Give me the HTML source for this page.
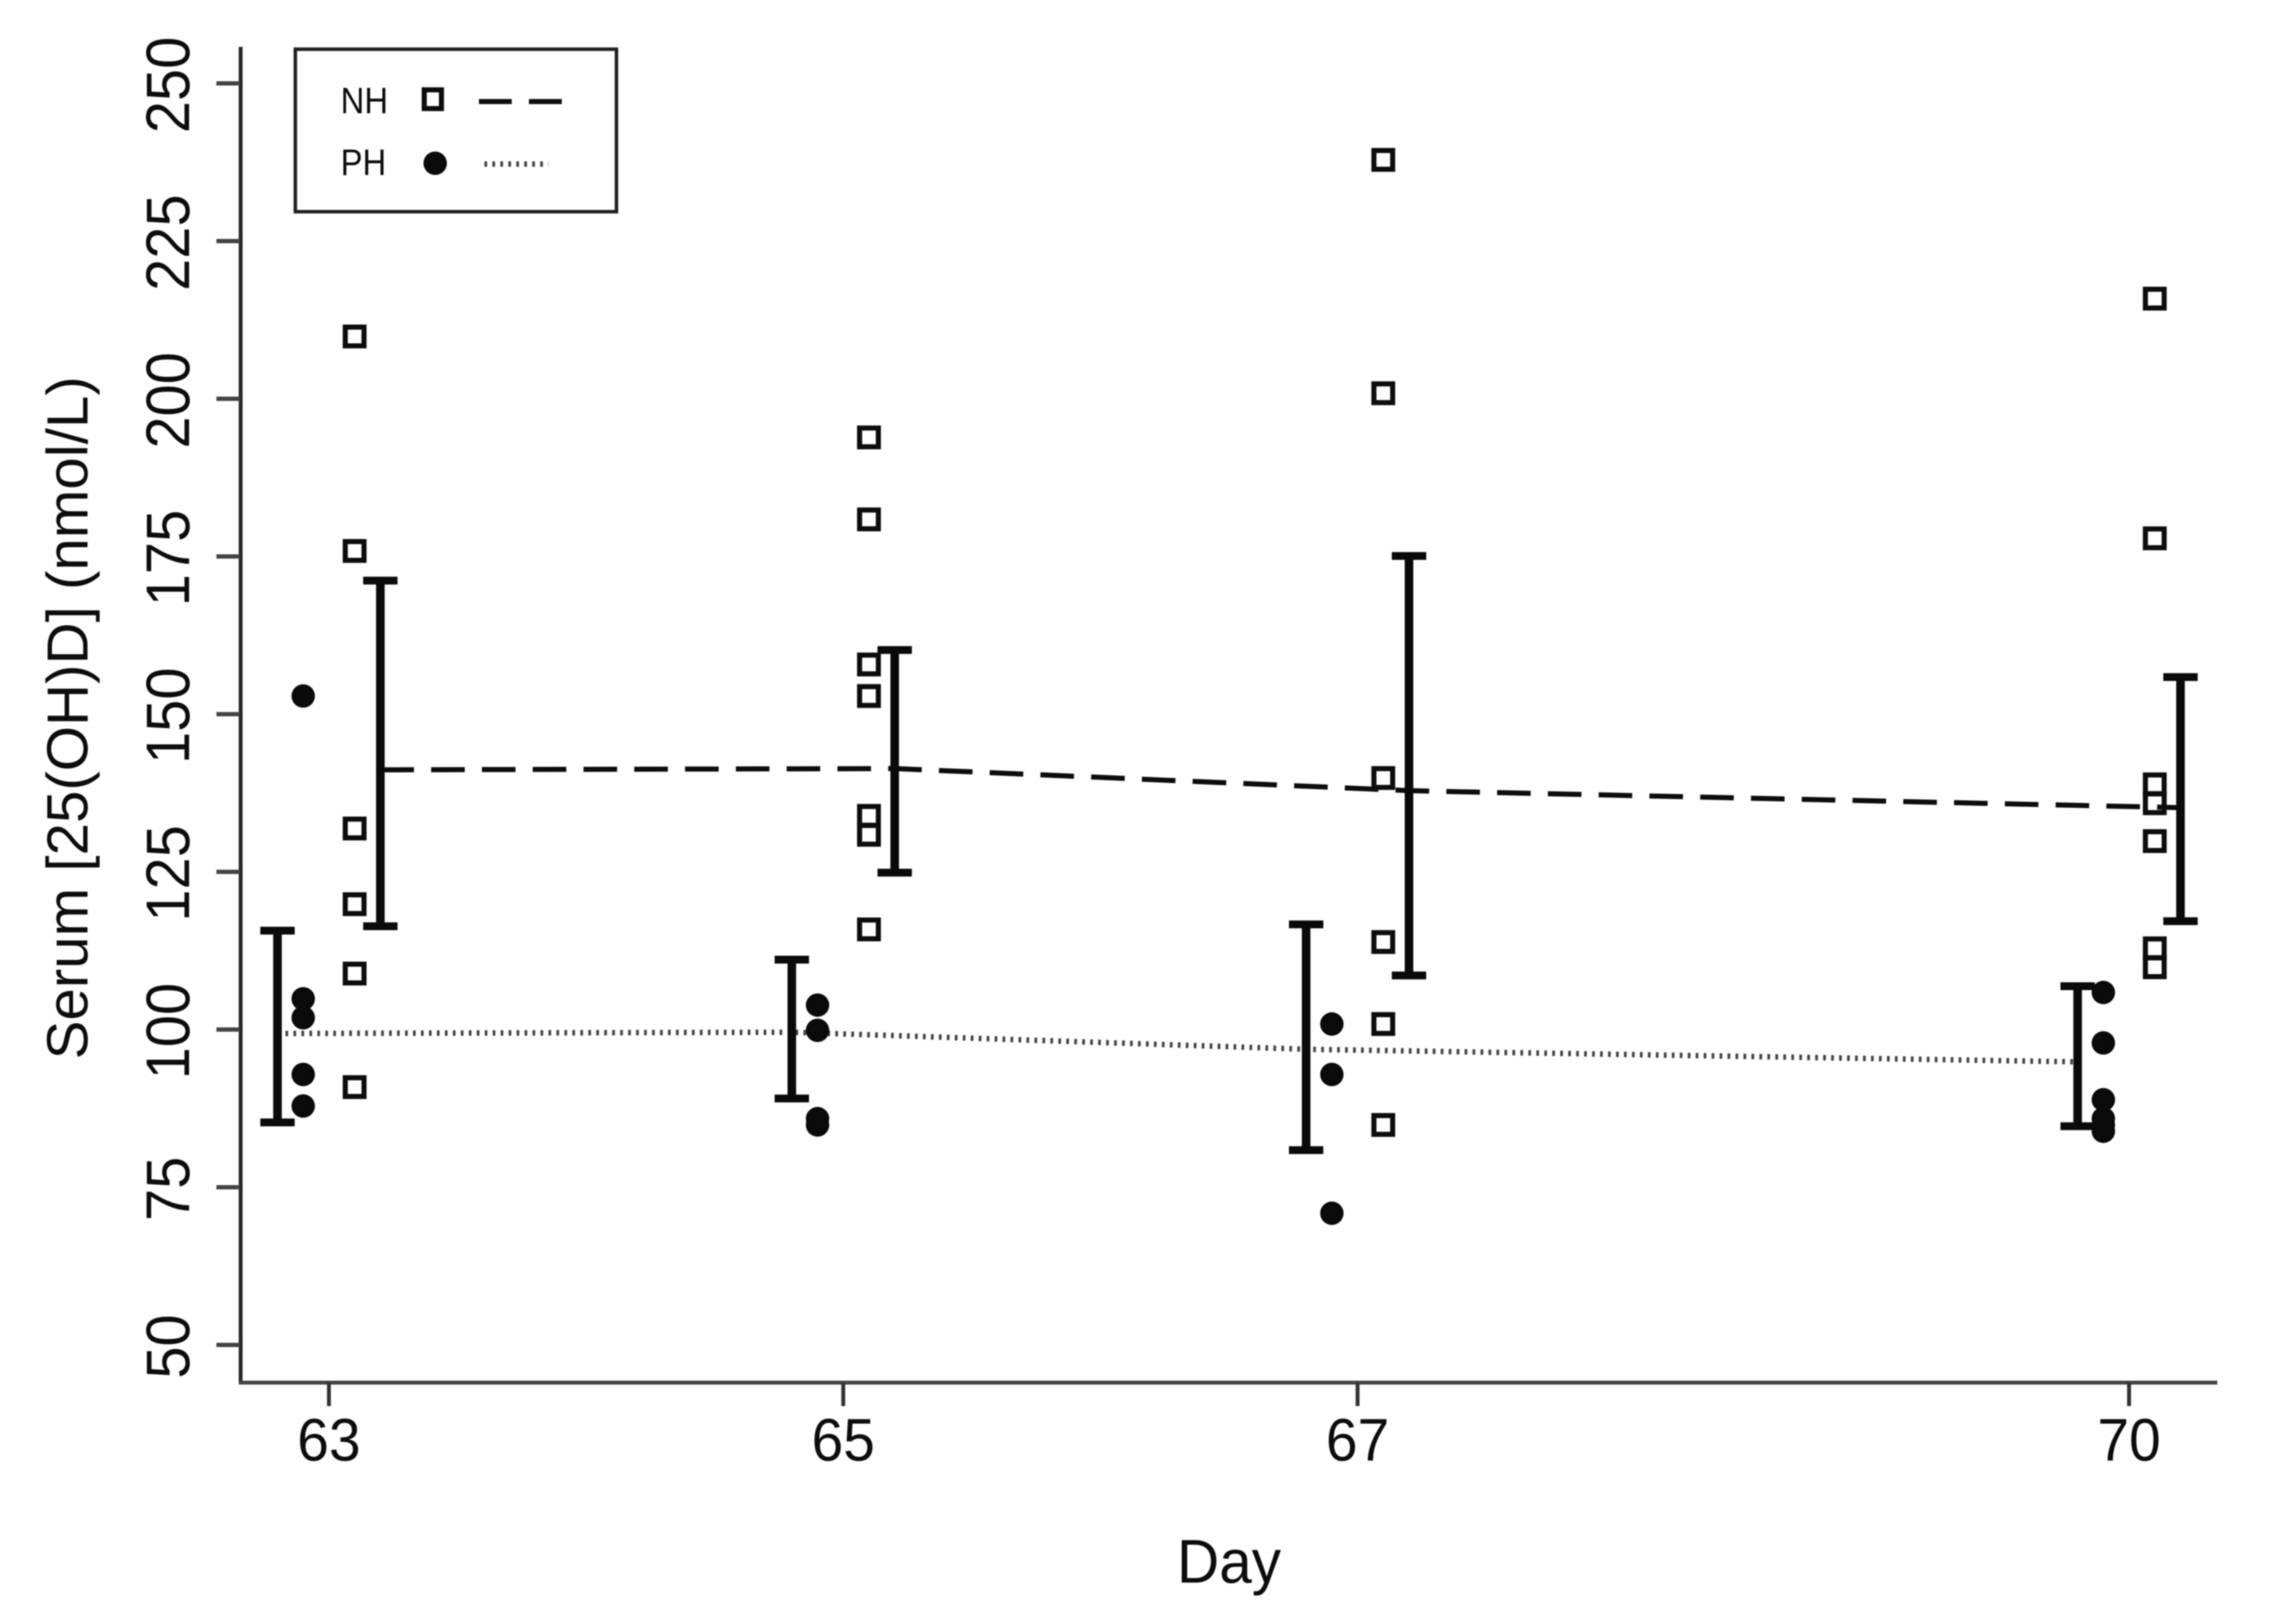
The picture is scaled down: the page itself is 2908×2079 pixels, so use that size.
<!DOCTYPE html>
<html lang="en">
<head>
<meta charset="utf-8">
<title>Serum 25(OH)D by day</title>
<style>
html,body{margin:0;padding:0;background:#fff;}
svg{display:block;filter:blur(0.7px);}
text{font-family:"Liberation Sans",sans-serif;fill:#0d0d0d;}
</style>
</head>
<body>
<svg id="chart" xmlns="http://www.w3.org/2000/svg" width="2908" height="2079" viewBox="0 0 2908 2079">
  <rect width="2908" height="2079" fill="#fff"/>
  <g id="axes"></g>
  <g id="marks" transform="translate(0 1)"></g>
  <text transform="translate(112 919) rotate(-90)" text-anchor="middle" font-size="74.6">Serum [25(OH)D] (nmol/L)</text>
  <text transform="translate(1573 2026) scale(1 1.05)" text-anchor="middle" font-size="75">Day</text>
  <g>
    <rect x="378" y="63" width="411" height="208" fill="#fff" stroke="#222" stroke-width="4.5"/>
    <text transform="translate(436 145) scale(1 1.12)" font-size="42">NH</text>
    <rect x="543" y="115" width="22" height="24" fill="#fff" stroke="#0d0d0d" stroke-width="6.5"/>
    <line x1="613" y1="130" x2="720" y2="130" stroke="#0d0d0d" stroke-width="6.5" stroke-dasharray="42 22"/>
    <text transform="translate(436 224) scale(1 1.12)" font-size="42">PH</text>
    <circle cx="557" cy="209" r="15" fill="#0a0a0a"/>
    <line x1="620" y1="210" x2="702" y2="210" stroke="#444" stroke-width="7" stroke-dasharray="3.5 6.7"/>
  </g>
</svg>
<script>
const days = [63, 65, 67, 70];
const yTicks = [50, 75, 100, 125, 150, 175, 200, 225, 250];
const nhPoints = [
  [210, 176, 132, 120, 109, 91],
  [194, 181, 158, 153, 134, 131, 116],
  [238, 201, 140, 114, 101, 85],
  [216, 178, 139, 136, 130, 113, 110]
];
const phPoints = [
  [153, 105, 102, 93, 88],
  [104, 100, 86, 85],
  [101, 93, 71],
  [106, 98, 89, 86, 85, 84]
];
const nhMeans = [141.3, 141.5, 138, 135.3];
const nhUpper = [171.3, 160.3, 175.2, 156];
const nhLower = [116.5, 125, 108.7, 117.3];
const phMeans = [99.5, 99.7, 97, 95];
const phUpper = [115.8, 111.2, 116.8, 107];
const phLower = [85.4, 89.2, 81, 84.8];

const NS = 'http://www.w3.org/2000/svg';
const axes = document.getElementById('axes');
const marks = document.getElementById('marks');

function xScale(day) { return 421 + (day - 63) * 329.15; }
function yScale(v) { return 1318 - (v - 100) * 8.075; }

function make(parent, tag, attrs) {
  const el = document.createElementNS(NS, tag);
  for (const k in attrs) el.setAttribute(k, attrs[k]);
  parent.appendChild(el);
  return el;
}

const yAxisLine = make(axes, 'line', {x1: 308, y1: 60, x2: 308, y2: 1772, stroke: '#2a2a2a', 'stroke-width': 5});


const xAxisLine = make(axes, 'line', {x1: 306, y1: 1770, x2: 2838, y2: 1770, stroke: '#444', 'stroke-width': 5});



yTicks.forEach(function (t) {
  const y = yScale(t);
  const tick = make(axes, 'line', {x1: 277, y1: y, x2: 307, y2: y, stroke: '#444', 'stroke-width': 5.5});
  
  
  const label = make(axes, 'text', {transform: 'translate(242 ' + (y + 2) + ') rotate(-90) scale(1 1.07)', 'text-anchor': 'middle', 'font-size': 74});
  label.textContent = t;
  
  
});

days.forEach(function (d) {
  const x = xScale(d);
  const tick = make(axes, 'line', {x1: x, y1: 1770, x2: x, y2: 1800, stroke: '#333', 'stroke-width': 5});
  
  
  const label = make(axes, 'text', {transform: 'translate(' + x + ' 1870) scale(1 1.06)', 'text-anchor': 'middle', 'font-size': 73});
  label.textContent = d;
  
  
});

function meanLine(means, offset, stroke, width, dash, name) {
  const pts = means.map(function (m, i) { return xScale(days[i] + offset) + ',' + yScale(m); }).join(' ');
  const line = make(marks, 'polyline', {points: pts, fill: 'none', stroke: stroke, 'stroke-width': width, 'stroke-dasharray': dash});
  
  
}
meanLine(nhMeans, 0.2, '#0d0d0d', 6.5, '43 22', 'nh-mean-line');
meanLine(phMeans, -0.2, '#444', 7, '3.5 6.7', 'ph-mean-line');

function errorBars(upper, lower, offset, name) {
  upper.forEach(function (u, i) {
    const x = xScale(days[i] + offset);
    const yU = yScale(u);
    const yL = yScale(lower[i]);
    const g = make(marks, 'g', {stroke: '#0a0a0a', fill: 'none'});
    
    
    make(g, 'line', {x1: x, y1: yU, x2: x, y2: yL, 'stroke-width': 11});
    make(g, 'line', {x1: x - 22, y1: yU, x2: x + 22, y2: yU, 'stroke-width': 10});
    make(g, 'line', {x1: x - 22, y1: yL, x2: x + 22, y2: yL, 'stroke-width': 10});
  });
}
errorBars(nhUpper, nhLower, 0.2, 'nh-error-bar');
errorBars(phUpper, phLower, -0.2, 'ph-error-bar');

nhPoints.forEach(function (vals, i) {
  vals.forEach(function (v) {
    const p = make(marks, 'rect', {x: xScale(days[i] + 0.1) - 12, y: yScale(v) - 12, width: 24, height: 24, fill: 'none', stroke: '#0d0d0d', 'stroke-width': 6.5});
    
    
  });
});
phPoints.forEach(function (vals, i) {
  vals.forEach(function (v) {
    const p = make(marks, 'circle', {cx: xScale(days[i] - 0.1), cy: yScale(v), r: 15, fill: '#0a0a0a'});
    
    
  });
});
</script>
</body>
</html>
